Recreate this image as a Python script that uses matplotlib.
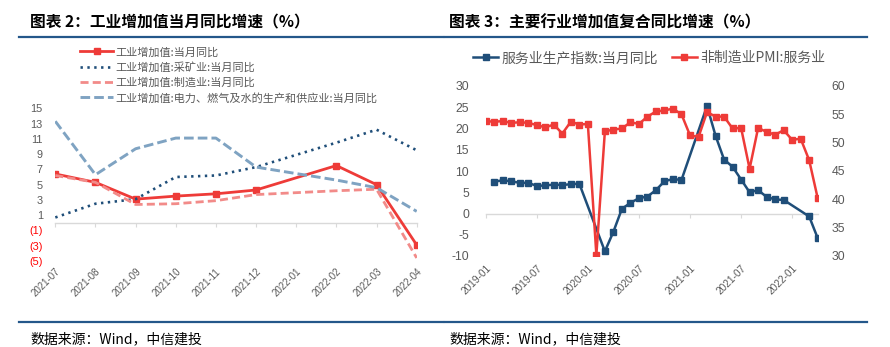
import numpy as np
import matplotlib
matplotlib.use("Agg")
import matplotlib.pyplot as plt
from matplotlib.lines import Line2D

CJK = ["Noto Sans CJK SC", "DejaVu Sans"]
NUM = ["Liberation Sans", "DejaVu Sans"]
plt.rcParams["font.family"] = CJK
plt.rcParams["axes.unicode_minus"] = False

# ---- Figure 2: industrial value added, monthly YoY (%) ----
ip_months = ["2021-07", "2021-08", "2021-09", "2021-10", "2021-11",
             "2021-12", "2022-01", "2022-02", "2022-03", "2022-04"]
ip_total = [6.4, 5.3, 3.1, 3.5, 3.8, 4.3, np.nan, 7.5, 5.0, -2.9]
ip_mining = [0.7, 2.5, 3.1, 6.0, 6.2, 7.3, np.nan, 10.5, 12.2, 9.5]
ip_manuf = [6.2, 5.3, 2.4, 2.5, 2.9, 3.7, np.nan, 4.2, 4.4, -4.6]
ip_utility = [13.3, 6.3, 9.7, 11.1, 11.1, 7.3, np.nan, 5.6, 4.6, 1.5]
ip_labels = ["工业增加值:当月同比",
             "工业增加值:采矿业:当月同比",
             "工业增加值:制造业:当月同比",
             "工业增加值:电力、燃气及水的生产和供应业:当月同比"]
ip_yticks = list(range(-5, 16, 2))

# ---- Figure 3: services output index vs. non-manufacturing PMI (services) ----
svc_months = [f"{y}-{m:02d}" for y in range(2019, 2023) for m in range(1, 13)][:40]
svc_index = [np.nan, 7.5, 7.8, 7.6, 7.2, 7.2, 6.5, 6.6, 6.8, 6.7, 6.9, 7.0,
             np.nan, np.nan, -8.9, -4.3, 1.1, 2.5, 3.6, 4.0, 5.5, 7.6, 8.1, 7.9,
             np.nan, np.nan, 25.3, 18.3, 12.7, 11.0, 8.0, 5.0, 5.5, 3.9, 3.3, 3.2,
             np.nan, np.nan, -0.7, -5.8]
pmi_services = [53.8, 53.7, 53.8, 53.5, 53.6, 53.5, 53.1, 52.7, 53.2, 51.6, 53.7, 53.2,
                53.3, 30.2, 52.0, 52.3, 52.5, 53.6, 53.3, 54.6, 55.5, 55.7, 56.0, 55.0,
                51.3, 51.0, 55.4, 54.6, 54.6, 52.5, 52.6, 45.4, 52.6, 51.9, 51.4, 52.2,
                50.5, 50.7, 46.9, 40.2]
svc_labels = ["服务业生产指数:当月同比", "非制造业PMI:服务业"]
svc_left_ticks = list(range(-10, 31, 5))
svc_right_ticks = list(range(30, 61, 5))
svc_label_step = 6

RED = "#EE3B38"
PINK = "#F28B89"
NAVY = "#1F4E79"
GREYBLUE = "#7FA3C2"
RULE = "#24578A"
TXT = "#595959"
AXIS = "#D9D9D9"

W, H = 890, 347


def fx(px):
    return px / W


def fy(py):
    return 1 - py / H


def valid(xs, vals):
    arr = np.asarray(vals, dtype=float)
    keep = ~np.isnan(arr)
    return np.asarray(xs)[keep], arr[keep]


fig = plt.figure(figsize=(W / 100, H / 100), dpi=100)
fig.patch.set_facecolor("white")

# ================= left chart =================
ax = fig.add_axes([fx(55.3), fy(261), fx(416.7) - fx(55.3), fy(108.3) - fy(261)])
xi = np.arange(len(ip_months))
l1, = ax.plot(*valid(xi, ip_total), color=RED, lw=2.0, marker="s", ms=4.6,
              mec=RED, zorder=3)
l2, = ax.plot(*valid(xi, ip_mining), color=NAVY, lw=1.9, ls=(0, (0.9, 1.7)), zorder=4)
l3, = ax.plot(*valid(xi, ip_manuf), color=PINK, lw=2.0, ls=(0, (2.9, 1.5)), zorder=5)
l4, = ax.plot(*valid(xi, ip_utility), color=GREYBLUE, lw=2.1, ls=(0, (3.3, 1.4)), zorder=6)

ax.set_xlim(0, len(ip_months) - 1)
ax.set_ylim(min(ip_yticks), max(ip_yticks))
for s in ("left", "right", "top"):
    ax.spines[s].set_visible(False)
ax.spines["bottom"].set_position(("data", 0))
ax.spines["bottom"].set_color(AXIS)
ax.spines["bottom"].set_linewidth(1.0)
ax.set_xticks(xi)
ax.tick_params(axis="x", labelbottom=False, length=3, width=0.8, color=AXIS, direction="out")
ax.set_yticks(ip_yticks, labels=[f"({abs(v)})" if v < 0 else f"{v}" for v in ip_yticks])
ax.tick_params(axis="y", length=0, pad=9, labelsize=7.8, labelcolor=TXT)
for v, lab in zip(ip_yticks, ax.get_yticklabels()):
    lab.set_fontfamily(NUM)
    if v < 0:
        lab.set_color("#FF0000")

sec = ax.secondary_xaxis("bottom")
sec.set_xticks(xi, labels=ip_months)
sec.spines["bottom"].set_visible(False)
sec.tick_params(length=0, pad=4, labelsize=7, labelcolor=TXT)
for lab in sec.get_xticklabels():
    lab.set_rotation(45)
    lab.set_ha("right")
    lab.set_rotation_mode("anchor")
    lab.set_fontfamily(NUM)

ax.legend([l1, l2, l3, l4], ip_labels, loc="upper left",
          bbox_to_anchor=(fx(80), fy(47)), bbox_transform=fig.transFigure,
          frameon=False, fontsize=8, handlelength=3.0, handletextpad=0.2,
          labelspacing=0.42, borderpad=0, borderaxespad=0, labelcolor=TXT)

# ================= right chart =================
bx = fig.add_axes([fx(485.7), fy(256), fx(817.7) - fx(485.7), fy(86) - fy(256)])
bx2 = bx.twinx()
xm = np.arange(len(svc_months))
b1, = bx.plot(*valid(xm, svc_index), color=NAVY, lw=1.8, marker="s", ms=4.3,
              mec=NAVY, zorder=3)
b2, = bx2.plot(*valid(xm, pmi_services), color=RED, lw=1.8, marker="s", ms=4.3,
               mec=RED, zorder=3)

bx.set_xlim(0, len(svc_months) - 1)
bx.set_ylim(min(svc_left_ticks), max(svc_left_ticks))
bx2.set_ylim(min(svc_right_ticks), max(svc_right_ticks))
for s in ("left", "right", "top"):
    bx.spines[s].set_visible(False)
for s in ("left", "right", "top", "bottom"):
    bx2.spines[s].set_visible(False)
bx.spines["bottom"].set_position(("data", 0))
bx.spines["bottom"].set_color(AXIS)
bx.spines["bottom"].set_linewidth(1.0)
tick_pos = xm[::svc_label_step]
bx.set_xticks(tick_pos)
bx.tick_params(axis="x", labelbottom=False, length=3, width=0.8, color=AXIS, direction="out")
bx.set_yticks(svc_left_ticks)
bx.tick_params(axis="y", length=0, pad=12, labelsize=8.8, labelcolor=TXT)
bx2.set_yticks(svc_right_ticks)
bx2.tick_params(axis="y", length=0, pad=10, labelsize=8.8, labelcolor=TXT)
for lab in bx.get_yticklabels() + bx2.get_yticklabels():
    lab.set_fontfamily(NUM)

sec2 = bx.secondary_xaxis("bottom")
sec2.set_xticks(tick_pos, labels=[svc_months[i] for i in tick_pos])
sec2.spines["bottom"].set_visible(False)
sec2.tick_params(length=0, pad=5, labelsize=7.3, labelcolor=TXT)
for lab in sec2.get_xticklabels():
    lab.set_rotation(45)
    lab.set_ha("right")
    lab.set_rotation_mode("anchor")
    lab.set_fontfamily(NUM)

fig.legend([b1, b2], svc_labels, loc="upper left",
           bbox_to_anchor=(fx(473), fy(51)), ncol=2, frameon=False,
           fontsize=10, handlelength=1.8, handletextpad=0.25, columnspacing=1.0,
           borderpad=0, borderaxespad=0, labelcolor=TXT)

# ================= titles, rules, sources =================
fig.text(fx(30), fy(22), "图表 2：工业增加值当月同比增速（%）", fontsize=11.3,
         fontweight="bold", ha="left", va="center", color="black")
fig.text(fx(449), fy(22), "图表 3：主要行业增加值复合同比增速（%）", fontsize=11.3,
         fontweight="bold", ha="left", va="center", color="black")

for x0, x1 in ((19, 443), (445, 867)):
    fig.add_artist(Line2D([fx(x0), fx(x1)], [fy(37), fy(37)], color=RULE, lw=1.6))
    fig.add_artist(Line2D([fx(x0), fx(x1)], [fy(322), fy(322)], color=RULE, lw=1.6))

for x0 in (30, 449):
    fig.text(fx(x0), fy(339), "数据来源：Wind，中信建投", fontsize=10, style="italic",
             ha="left", va="center", color="black")

fig.savefig("out.png", dpi=100)
